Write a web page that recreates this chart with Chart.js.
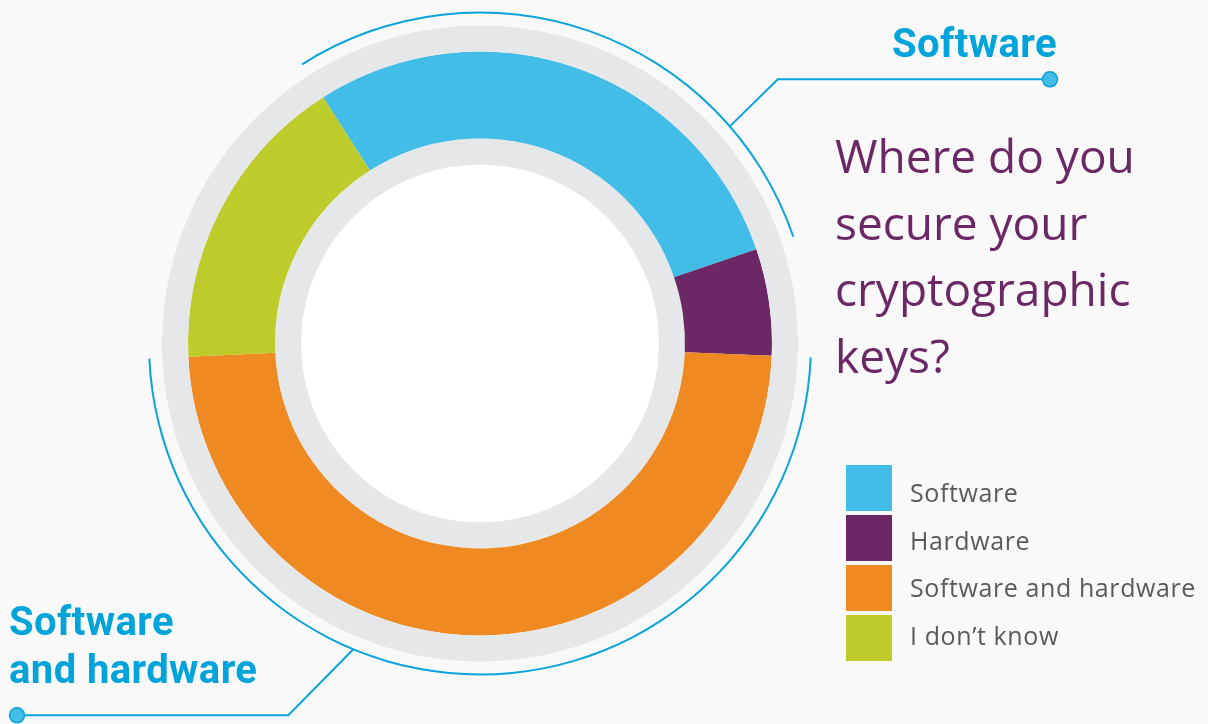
<!DOCTYPE html>
<html>
<head>
<meta charset="utf-8">
<script src="https://cdn.jsdelivr.net/npm/chart.js@4.4.1/dist/chart.umd.min.js"></script>
<style>
  html, body { margin: 0; padding: 0; background: #f9f9f9; }
  #wrap { position: relative; width: 1208px; height: 724px; overflow: hidden; }
  #keys { position: absolute; left: 0; top: 0; }
  .callout { position: absolute; font-family: Roboto, sans-serif; font-weight: 700; font-size: 40px; letter-spacing: 0.4px; line-height: 47.5px; color: #00a3da; white-space: nowrap; }
  #question { position: absolute; left: 835px; top: 122px; font-family: "Open Sans", sans-serif; font-size: 46px; line-height: 66.5px; color: #6c2766; white-space: nowrap; }
  #legend { position: absolute; left: 846px; top: 465px; }
  .item { position: relative; height: 50px; }
  .swatch { position: absolute; left: 0; top: 0; width: 46px; height: 46px; }
  .item span { position: absolute; left: 64px; top: 10px; font-family: "Open Sans", sans-serif; font-size: 25px; letter-spacing: 0.6px; line-height: 34px; color: #5a5a5a; white-space: nowrap; }
</style>
</head>
<body>
<div id="wrap">
  <canvas id="keys" width="1208" height="724"></canvas>
  <div class="callout" style="left:892px; top:20px;">Software</div>
  <div class="callout" style="left:9px; top:598px;">Software<br>and hardware</div>
  <div id="question">Where do you<br>secure your<br>cryptographic<br>keys?</div>
  <div id="legend"></div>
</div>
<script>
// jawaban survei (persen)
const labels = ['Software', 'Hardware', 'Software and hardware', "I don\u2019t know"];
const shares = [28.8, 5.9, 48.6, 16.7];
const colors = ['#41bde7', '#6c2766', '#ef8a22', '#bdcc2a'];
// garis tipis biru hanya di atas Software dan Software and hardware
const highlight = ['#0aa4db', 'rgba(0,0,0,0)', '#0aa4db', 'rgba(0,0,0,0)'];

const ringGray = '#e6e7e9';
const lineBlue = '#0aa4db';

// legend dibuat dari label dan warna
const legend = document.getElementById('legend');
labels.forEach((l, i) => {
  const row = document.createElement('div');
  row.className = 'item';
  row.innerHTML = '<div class="swatch" style="background:' + colors[i] + '"></div>' +
    '<span style="top:' + (10 - 2.3 * i) + 'px">' + l + '</span>'; // jarak teks sedikit lebih rapat
  legend.appendChild(row);
});

// garis penunjuk dari cincin biru ke label
const leaders = {
  id: 'leaders',
  afterDatasetsDraw(chart) {
    const arc = chart.getDatasetMeta(0).data[0];
    const cx = arc.x, cy = arc.y;
    const r = (arc.outerRadius + arc.innerRadius) / 2;
    const ctx = chart.ctx;
    const lines = [
      { deg: 49, dx: 48, dy: -47, endX: 1050 },
      { deg: 202.5, dx: -65, dy: 66, endX: 17 },
    ];
    ctx.save();
    lines.forEach(l => {
      const a = l.deg * Math.PI / 180;
      const x0 = cx + r * Math.sin(a);
      const y0 = cy - r * Math.cos(a);
      const x1 = x0 + l.dx, y1 = y0 + l.dy;
      ctx.strokeStyle = lineBlue;
      ctx.lineWidth = 2;
      ctx.beginPath();
      ctx.moveTo(x0, y0);
      ctx.lineTo(x1, y1);
      ctx.lineTo(l.endX, y1);
      ctx.stroke();
      ctx.beginPath();
      ctx.arc(l.endX, y1, 7.5, 0, Math.PI * 2);
      ctx.fillStyle = '#42bde8';
      ctx.fill();
      ctx.lineWidth = 1.5;
      ctx.strokeStyle = '#0a9fd5';
      ctx.stroke();
    });
    ctx.restore();
  }
};

const flat = { borderWidth: 0, hoverOffset: 0 };

new Chart(document.getElementById('keys'), {
  type: 'doughnut',
  data: {
    labels: labels,
    datasets: [
      { data: shares, backgroundColor: highlight, weight: 2, ...flat },          // garis biru tipis
      { data: [1], backgroundColor: 'rgba(0,0,0,0)', weight: 12, ...flat },   // jarak
      { data: [1], backgroundColor: ringGray, weight: 26, ...flat },           // cincin abu luar
      { data: shares, backgroundColor: colors, weight: 87, ...flat },          // data
      { data: [1], backgroundColor: ringGray, weight: 26, ...flat },           // cincin abu dalam
      { data: [1], backgroundColor: '#ffffff', weight: 179, ...flat },         // lubang putih
    ],
  },
  options: {
    responsive: false,
    animation: false,
    rotation: -32.5,
    cutout: 0,
    layout: { padding: { left: 148, right: 396, top: 11.5, bottom: 48.5 } },
    plugins: {
      legend: { display: false },
      tooltip: { enabled: false },
    },
  },
  plugins: [leaders],
});
</script>
</body>
</html>
